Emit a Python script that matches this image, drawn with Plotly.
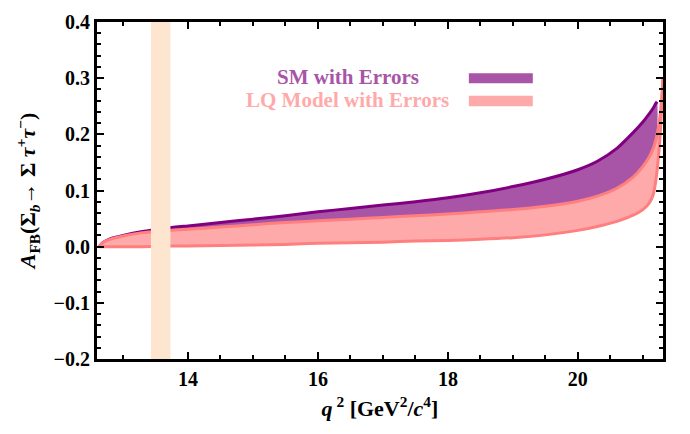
import plotly.graph_objects as go

# q^2 grid (GeV^2/c^4) and forward-backward asymmetry bands
q2 = [12.63, 12.7, 12.8, 13.0, 13.3, 13.6, 14.0, 14.5, 15.0, 15.5, 16.0, 16.5,
      17.0, 17.5, 18.0, 18.5, 19.0, 19.5, 20.0, 20.3, 20.6, 20.85, 21.0, 21.1,
      21.16, 21.2, 21.24, 21.27, 21.29, 21.31]
lq_upper = [0.000, 0.008, 0.013, 0.019, 0.025, 0.028, 0.031, 0.035, 0.039, 0.043,
            0.046, 0.049, 0.052, 0.055, 0.058, 0.062, 0.066, 0.072, 0.081, 0.090,
            0.104, 0.124, 0.143, 0.160, 0.175, 0.190, 0.213, 0.238, 0.263, 0.300]
lq_lower = [0.000, 0.000, 0.000, 0.000, 0.000, 0.001, 0.001, 0.002, 0.003, 0.004,
            0.006, 0.007, 0.008, 0.010, 0.011, 0.013, 0.016, 0.021, 0.029, 0.036,
            0.045, 0.056, 0.066, 0.078, 0.093, 0.118, 0.160, 0.205, 0.250, 0.300]

q2_sm = [12.63, 12.7, 12.8, 13.0, 13.3, 13.6, 14.0, 14.5, 15.0, 15.5, 16.0, 16.5,
         17.0, 17.5, 18.0, 18.5, 19.0, 19.5, 20.0, 20.3, 20.6, 20.85, 21.0, 21.1,
         21.16, 21.2, 21.22]
sm_upper = [0.000, 0.008, 0.014, 0.020, 0.027, 0.032, 0.037, 0.043, 0.049, 0.055,
            0.062, 0.068, 0.074, 0.080, 0.087, 0.096, 0.107, 0.120, 0.137, 0.152,
            0.175, 0.203, 0.222, 0.237, 0.247, 0.255, 0.258]
sm_lower = [0.000, 0.007, 0.012, 0.018, 0.023, 0.026, 0.029, 0.033, 0.037, 0.040,
            0.043, 0.046, 0.049, 0.052, 0.055, 0.059, 0.063, 0.069, 0.078, 0.087,
            0.101, 0.121, 0.140, 0.157, 0.172, 0.185, 0.200]

# excluded charmonium window
veto = [13.43, 13.73]

legend_labels = ["SM with Errors", "LQ Model with Errors"]

PURPLE_FILL = "#A855A8"
PURPLE_LINE = "#800080"
PINK_FILL = "#FFAAAA"
PINK_LINE = "#FF7F7F"
PEACH = "#FDE5CF"
FONT = "Liberation Serif"
SMOOTH = dict(shape="spline", smoothing=0.6)

fig = go.Figure()

# SM band
fig.add_trace(go.Scatter(
    x=q2_sm + q2_sm[::-1], y=sm_upper + sm_lower[::-1],
    fill="toself", fillcolor=PURPLE_FILL, line=dict(width=0, **SMOOTH),
    mode="lines", hoverinfo="skip", showlegend=False))
fig.add_trace(go.Scatter(
    x=q2_sm, y=sm_upper, mode="lines",
    line=dict(color=PURPLE_LINE, width=3, **SMOOTH), showlegend=False))

# LQ band: filled region, then its two edges
fig.add_trace(go.Scatter(
    x=q2 + q2[::-1], y=lq_upper + lq_lower[::-1],
    fill="toself", fillcolor=PINK_FILL, line=dict(width=0, **SMOOTH),
    mode="lines", hoverinfo="skip", showlegend=False))
for edge in (lq_upper, lq_lower):
    fig.add_trace(go.Scatter(
        x=q2, y=edge, mode="lines",
        line=dict(color=PINK_LINE, width=3, **SMOOTH), showlegend=False))

fig.add_shape(type="rect", xref="x", yref="y domain",
              x0=veto[0], x1=veto[1], y0=0, y1=1,
              fillcolor=PEACH, line=dict(width=0), layer="above")

# legend entries
for label, color, ty, sy in [(legend_labels[0], PURPLE_FILL, 0.838, (0.818, 0.848)),
                             (legend_labels[1], PINK_FILL, 0.770, (0.750, 0.781))]:
    fig.add_annotation(x=0.443, y=ty, xref="paper", yref="paper",
                       text="<b>%s</b>" % label, showarrow=False,
                       xanchor="center", yanchor="middle",
                       font=dict(family=FONT, size=21, color=color))
    fig.add_shape(type="rect", xref="paper", yref="paper",
                  x0=0.657, x1=0.770, y0=sy[0], y1=sy[1],
                  fillcolor=color, line=dict(width=0))

axis_common = dict(
    showline=True, linecolor="black", linewidth=3, mirror="allticks",
    ticks="inside", ticklen=7, tickwidth=2, tickcolor="black",
    showgrid=False, zeroline=False,
    tickfont=dict(family=FONT, size=20, color="black"),
)

fig.update_xaxes(
    range=[12.6, 21.31], tickmode="array", tickvals=[14, 16, 18, 20],
    ticktext=["<b>14</b>", "<b>16</b>", "<b>18</b>", "<b>20</b>"],
    minor=dict(ticks="inside", dtick=0.5, tick0=12, ticklen=4, tickwidth=2,
               tickcolor="black", showgrid=False),
    title=dict(text="<b><i>q</i><sup> 2</sup> [GeV<sup>2</sup>/<i>c</i><sup>4</sup>]</b>",
               font=dict(family=FONT, size=22, color="black"), standoff=12),
    **axis_common)

yvals = [-0.2, -0.1, 0.0, 0.1, 0.2, 0.3, 0.4]
fig.update_yaxes(
    range=[-0.2, 0.4], tickmode="array", tickvals=yvals,
    ticktext=["<b>%s</b>" % ("\u2212%.1f" % -v if v < 0 else "%.1f" % v) for v in yvals],
    minor=dict(ticks="inside", dtick=0.02, tick0=0, ticklen=4, tickwidth=2,
               tickcolor="black", showgrid=False),
    title=dict(text="<b><i>A</i><sub>FB</sub>(\u03a3<sub><i>b</i></sub>\u2192 \u03a3 "
                    "<i>\u03c4</i><sup>+</sup><i>\u03c4</i><sup>\u2212</sup>)</b>",
               font=dict(family=FONT, size=22, color="black"), standoff=12),
    **axis_common)

fig.update_layout(
    width=690, height=434,
    margin=dict(l=97, r=27, t=11, b=75),
    paper_bgcolor="white", plot_bgcolor="white",
    showlegend=False,
)

fig.write_html("out.html")
